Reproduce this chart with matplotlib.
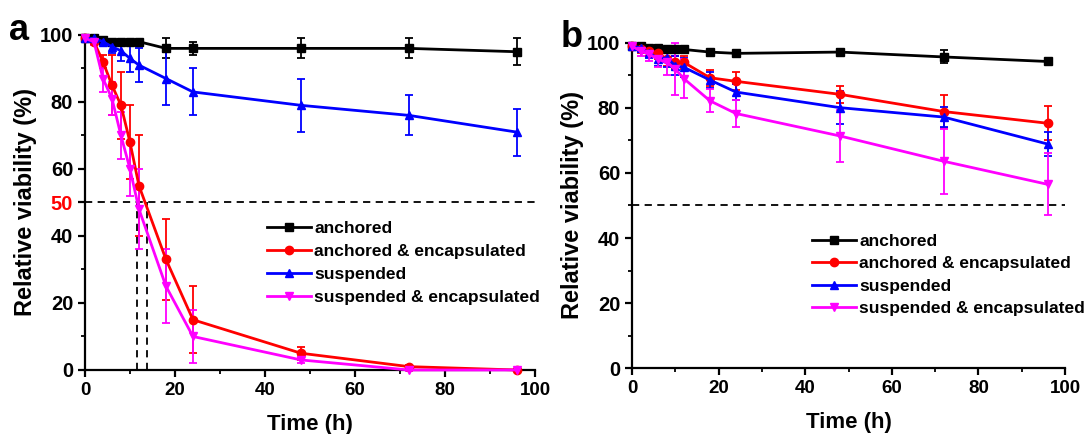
import numpy as np
import matplotlib.pyplot as plt
from matplotlib.lines import Line2D

plt.rcParams['font.family'] = ['Liberation Sans', 'DejaVu Sans']
plt.rcParams['font.weight'] = 'bold'

# time points (h)
time = [0, 2, 4, 6, 8, 10, 12, 18, 24, 48, 72, 96]

labels = ["anchored", "anchored & encapsulated", "suspended",
          "suspended & encapsulated"]
colors = ["black", "red", "blue", "magenta"]
markers = ["s", "o", "^", "v"]

# panel a
a_anchored = [99, 99, 98.5, 98, 98, 98, 98, 96, 96, 96, 96, 95]
a_anchored_err = [0.5, 0.5, 0.8, 0.8, 0.8, 0.8, 0.8, 3, 2, 3, 3, 4]
a_anch_enc = [99, 98, 92, 85, 79, 68, 55, 33, 15, 5, 1, 0]
a_anch_enc_err = [0.5, 1, 2, 9, 10, 11, 15, 12, 10, 2, 0.5, 0.3]
a_susp = [99, 99, 98, 96.5, 95.3, 93, 91, 87, 83, 79, 76, 71]
a_susp_err = [0.5, 0.5, 1, 2, 3, 4, 5, 8, 7, 8, 6, 7]
a_susp_enc = [99, 98, 87, 81, 70, 60, 48, 25, 10, 3, 0, 0]
a_susp_enc_err = [0.5, 1, 4, 5, 7, 8, 12, 11, 8, 1, 0.3, 0.3]

# panel b
b_anchored = [99, 99, 98.5, 98.5, 98, 98, 98, 97.2, 96.8, 97.2, 95.7, 94.3]
b_anchored_err = [0.5, 0.5, 0.8, 0.8, 0.8, 1, 1, 0.6, 0.6, 0.8, 2, 0.5]
b_anch_enc = [99, 98, 97.5, 97, 95, 94, 94, 89.3, 88.2, 84.2, 78.9, 75.3]
b_anch_enc_err = [0.5, 1, 1.5, 2, 2, 2, 2, 2.5, 2.8, 2.7, 5, 5.3]
b_susp = [99, 98.5, 97, 95, 95.5, 93, 92.5, 88.6, 84.9, 80.1, 77.2, 68.9]
b_susp_err = [0.5, 1, 1.5, 2, 3, 3, 3, 2.5, 2.5, 5, 3, 3.8]
b_susp_enc = [99, 97.5, 96.5, 95, 94, 92, 89, 82.2, 78.3, 71.4, 63.6, 56.5]
b_susp_enc_err = [0.5, 1.5, 2, 2.5, 4, 8, 6, 3.5, 4.2, 8, 10, 9.5]

# half-life lines in panel a
t_half = [11.5, 13.8]


def draw_panel(ax, series, errors):
    for y, e, c, m in zip(series, errors, colors, markers):
        ax.errorbar(time, y, yerr=e, color=c, marker=m, markersize=6,
                    linewidth=2, elinewidth=1.3, capsize=3, capthick=1.3,
                    clip_on=False, zorder=3)
    ax.axhline(50, color="black", linestyle=(0, (4, 3)), linewidth=1.3,
               zorder=1)
    ax.set_xlim(0, 100)
    ax.set_ylim(0, 100)
    ax.spines['top'].set_visible(False)
    ax.spines['right'].set_visible(False)
    for s in ['left', 'bottom']:
        ax.spines[s].set_linewidth(1.6)
    ax.set_xticks([0, 20, 40, 60, 80, 100])
    ax.set_xticks([10, 30, 50, 70, 90], minor=True)
    ax.tick_params(which='major', length=5, width=1.6)
    ax.tick_params(axis='x', labelsize=13.5)
    ax.tick_params(axis='y', labelsize=14.5)
    ax.tick_params(which='minor', length=3, width=1.3)
    ax.set_xlabel("Time (h)", fontsize=16, fontweight='bold', labelpad=11)
    ax.set_ylabel("Relative viability (%)", fontsize=17, fontweight='bold',
                  labelpad=2)

    handles = [Line2D([], [], color=c, marker=m, markersize=6, linewidth=2)
               for c, m in zip(colors, markers)]
    return handles


fig = plt.figure(figsize=(10.88, 4.34), dpi=100)
ax1 = fig.add_axes([0.0781, 0.1475, 0.4136, 0.7719])
ax2 = fig.add_axes([0.5809, 0.152, 0.398, 0.749])

h = draw_panel(ax1, [a_anchored, a_anch_enc, a_susp, a_susp_enc],
               [a_anchored_err, a_anch_enc_err, a_susp_err, a_susp_enc_err])
ax1.set_yticks([0, 20, 40, 50, 60, 80, 100])
ax1.set_yticks([10, 30, 70, 90], minor=True)
ax1.get_yticklabels()[3].set_color("red")
for t in t_half:
    ax1.plot([t, t], [0, 50], color="black", linestyle=(0, (4, 3)),
             linewidth=1.3, zorder=1)
ax1.legend(h, labels, loc="upper left", bbox_to_anchor=(0.39, 0.465),
           frameon=False, prop={'size': 12.5, 'weight': 'bold'},
           handlelength=2.5, handletextpad=0.2, labelspacing=0.45,
           borderaxespad=0)
for t in ax1.get_xticklabels() + ax1.get_yticklabels():
    t.set_fontweight('bold')

h = draw_panel(ax2, [b_anchored, b_anch_enc, b_susp, b_susp_enc],
               [b_anchored_err, b_anch_enc_err, b_susp_err, b_susp_enc_err])
ax2.set_yticks([0, 20, 40, 60, 80, 100])
ax2.set_yticks([10, 30, 50, 70, 90], minor=True)
ax2.legend(h, labels, loc="upper left", bbox_to_anchor=(0.4, 0.435),
           frameon=False, prop={'size': 12.5, 'weight': 'bold'},
           handlelength=2.5, handletextpad=0.2, labelspacing=0.42,
           borderaxespad=0)
for t in ax2.get_xticklabels() + ax2.get_yticklabels():
    t.set_fontweight('bold')

fig.text(0.008, 0.908, "a", fontsize=26, fontweight='bold', va='baseline')
fig.text(0.515, 0.892, "b", fontsize=26, fontweight='bold', va='baseline')

fig.savefig("out.png", dpi=100)
